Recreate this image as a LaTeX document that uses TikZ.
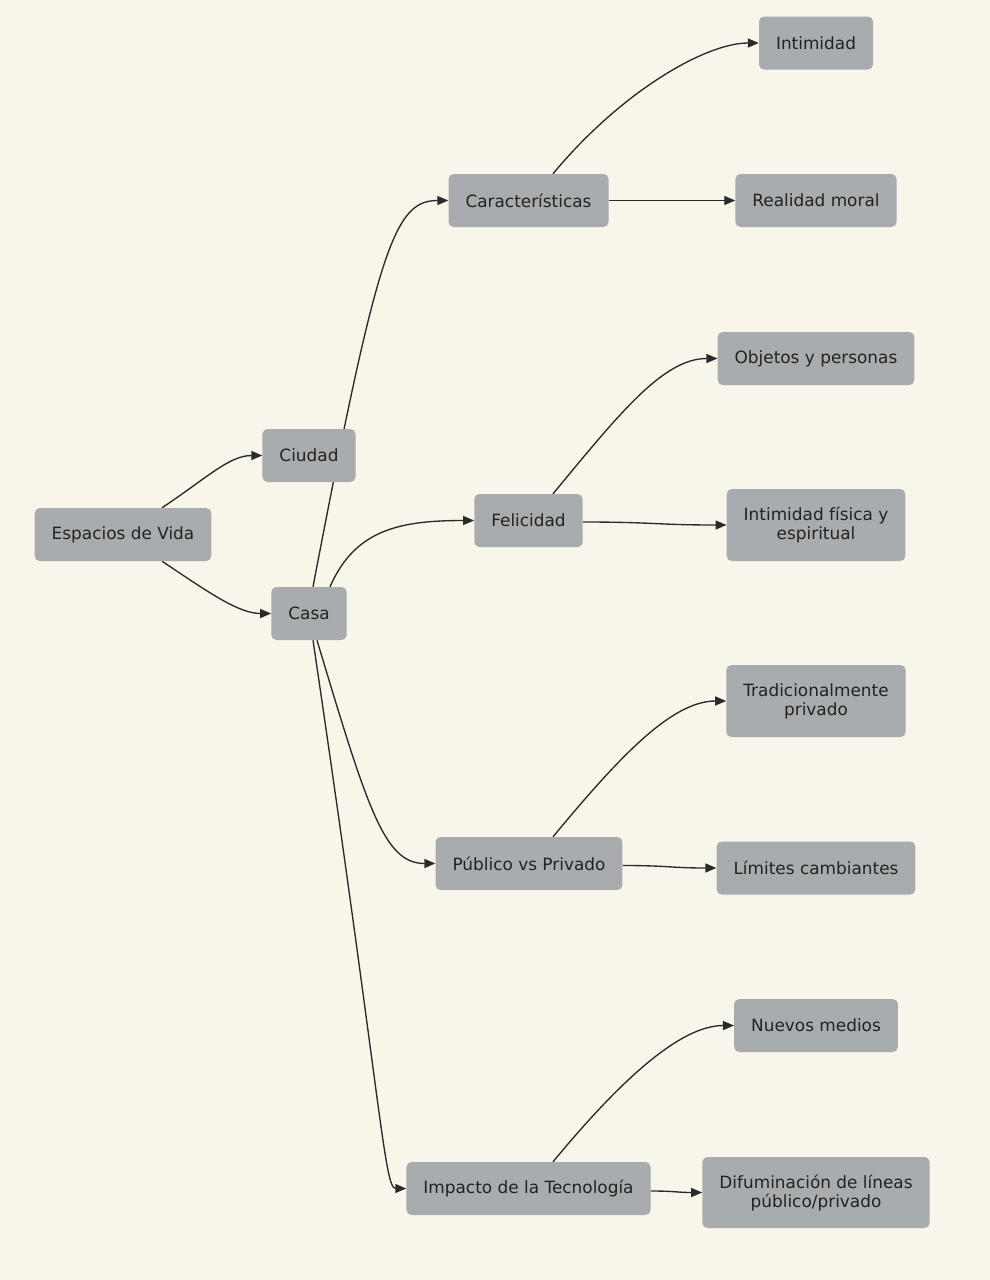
\documentclass[tikz,border=0pt]{standalone}
\usepackage{fontspec}
\setmainfont{DejaVu Sans}
\usepackage{tikz}
\usetikzlibrary{arrows.meta,calc}
\definecolor{paper}{HTML}{F8F6EB}
\definecolor{boxgray}{HTML}{A9ACAE}
\definecolor{ink}{HTML}{222222}
\definecolor{wire}{HTML}{2A2A2A}
\pgfdeclarelayer{bg}
\pgfsetlayers{bg,main}
\tikzset{
 box/.style={rectangle,rounded corners=5pt,fill=boxgray,text=ink,align=center,
  inner xsep=17pt,inner ysep=0pt,minimum height=53pt,font=\fontsize{16.9}{19}\selectfont},
 edge/.style={draw=wire,line width=1.35pt,-{Triangle[length=11pt,width=9pt]}}
}

\begin{document}
\begin{tikzpicture}[x=1pt,y=-1pt]
\useasboundingbox (0,0) rectangle (990,1280);
\begin{pgfonlayer}{bg}
 \fill[paper] (0,0) rectangle (990,1280);
\end{pgfonlayer}
 \node (esp) at (123,534.5) [box]{Espacios de Vida};
 \node (ciu) at (309,455.5) [box]{Ciudad};
 \node (casa) at (309,613.5) [box]{Casa};
 \node (car) at (528.5,200.5) [box]{Características};
 \node (fel) at (528.5,520.5) [box]{Felicidad};
 \node (pub) at (529,863.5) [box]{Público vs Privado};
 \node (imp) at (528.5,1188.5) [box]{Impacto de la Tecnología};
 \node (inti) at (816,43) [box]{Intimidad};
 \node (real) at (816,200.5) [box]{Realidad moral};
 \node (obj) at (816,358.5) [box]{Objetos y personas};
 \node (ifis) at (816,525) [box,minimum height=72pt]{Intimidad física y\\espiritual};
 \node (trad) at (816,701) [box,minimum height=72pt]{Tradicionalmente\\privado};
 \node (lim) at (816,868) [box]{Límites cambiantes};
 \node (nue) at (816,1025.5) [box]{Nuevos medios};
 \node (dif) at (816,1192.5) [box,minimum height=71pt]{Difuminación de líneas\\público/privado};
\begin{pgfonlayer}{bg}
 \draw[edge] ($(esp.north)+(39,0)$) .. controls +(45,-30) and +(-33,0) .. (ciu.west);
 \draw[edge] ($(esp.south)+(39,0)$) .. controls +(45,30) and +(-33,0) .. (casa.west);
 \draw[edge] ($(casa.north)+(4,0)$) .. controls +(65,-340) and +(-54,0) .. (car.west);
 \draw[edge] ($(casa.north)+(21,0)$) .. controls +(25,-57) and +(-75,0) .. (fel.west);
 \draw[edge] ($(casa.south)+(8,0)$) .. controls +(51,170) and +(-51,0) .. (pub.west);
 \draw[edge] ($(casa.south)+(4,0)$) .. controls +(68,460) and +(-22,0) .. (imp.west);
 \draw[edge] ($(car.north)+(24.5,0)$) .. controls +(67,-81) and +(-54,0) .. (inti.west);
 \draw[edge] (car.east) -- (real.west);
 \draw[edge] ($(fel.north)+(24.5,0)$) .. controls +(67,-81) and +(-54,0) .. (obj.west);
 \draw[edge] ($(fel.east)+(0,1.5)$) .. controls +(70,0) and +(-70,0) .. (ifis.west);
 \draw[edge] ($(pub.north)+(24,0)$) .. controls +(67,-81) and +(-54,0) .. (trad.west);
 \draw[edge] ($(pub.east)+(0,2)$) .. controls +(45,0) and +(-45,0) .. (lim.west);
 \draw[edge] ($(imp.north)+(24.5,0)$) .. controls +(67,-81) and +(-54,0) .. (nue.west);
 \draw[edge] ($(imp.east)+(0,2.5)$) .. controls +(25,0) and +(-25,0) .. (dif.west);
\end{pgfonlayer}
\end{tikzpicture}
\end{document}
